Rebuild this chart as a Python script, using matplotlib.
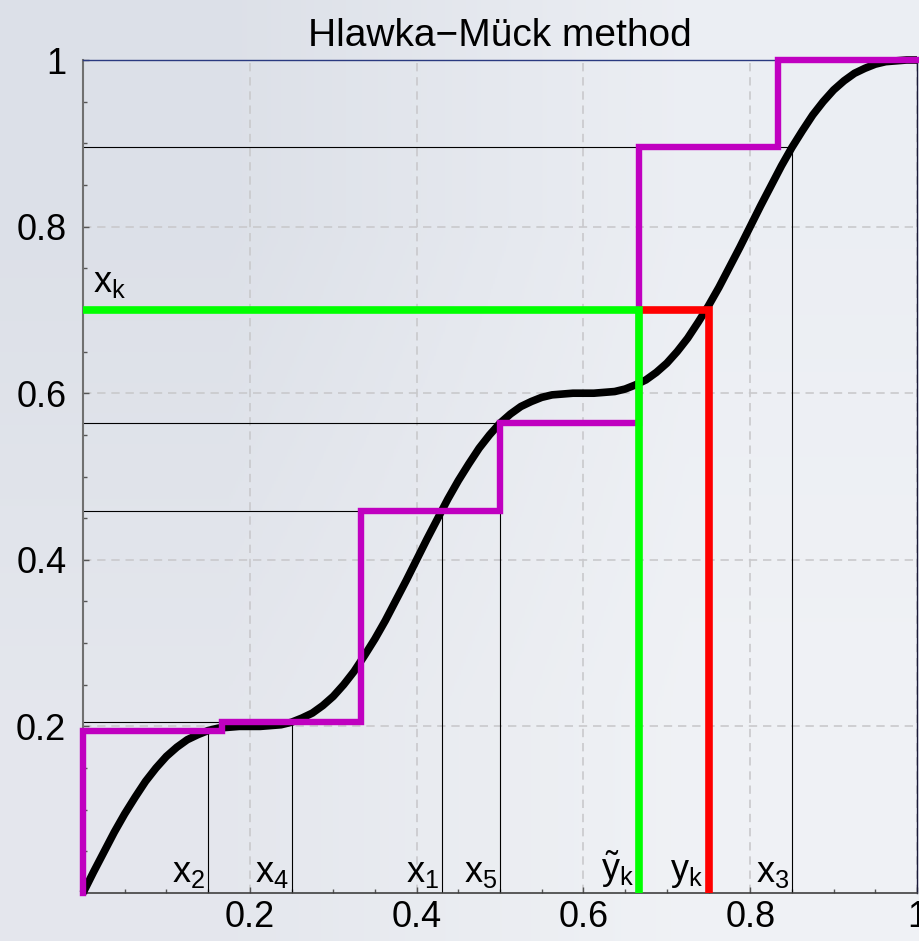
import numpy as np
import matplotlib
matplotlib.use("Agg")
import matplotlib.pyplot as plt
from matplotlib.ticker import MultipleLocator, FixedLocator, FixedFormatter

plt.rcParams['font.family'] = ['Liberation Sans', 'DejaVu Sans']
plt.rcParams['mathtext.fontset'] = 'custom'
plt.rcParams['mathtext.rm'] = 'Liberation Sans'
plt.rcParams['mathtext.it'] = 'Liberation Sans'
plt.rcParams['mathtext.bf'] = 'Liberation Sans:bold'

# ---- data ----
# black curve F(x)
curve_x = [0.0, 0.0125, 0.025, 0.0375, 0.05, 0.0625, 0.075, 0.0875, 0.1, 0.1125,
           0.125, 0.1375, 0.15, 0.1625, 0.175, 0.1875, 0.2, 0.2125, 0.225, 0.2375,
           0.25, 0.2625, 0.275, 0.2875, 0.3, 0.3125, 0.325, 0.3375, 0.35, 0.3625,
           0.375, 0.3875, 0.4, 0.4125, 0.425, 0.4375, 0.45, 0.4625, 0.475, 0.4875,
           0.5, 0.5125, 0.525, 0.5375, 0.55, 0.5625, 0.575, 0.5875, 0.6, 0.6125,
           0.625, 0.6375, 0.65, 0.6625, 0.675, 0.6875, 0.7, 0.7125, 0.725, 0.7375,
           0.75, 0.7625, 0.775, 0.7875, 0.8, 0.8125, 0.825, 0.8375, 0.85, 0.8625,
           0.875, 0.8875, 0.9, 0.9125, 0.925, 0.9375, 0.95, 0.9625, 0.975, 0.9875,
           1.0]
curve_y = [0.0, 0.025, 0.049, 0.073, 0.095, 0.115, 0.134, 0.150, 0.164, 0.175,
           0.184, 0.190, 0.195, 0.198, 0.199, 0.200, 0.200, 0.200, 0.201, 0.202,
           0.205, 0.210, 0.216, 0.225, 0.236, 0.250, 0.266, 0.285, 0.305, 0.327,
           0.351, 0.375, 0.400, 0.425, 0.449, 0.473, 0.495, 0.515, 0.534, 0.550,
           0.564, 0.575, 0.584, 0.590, 0.595, 0.598, 0.599, 0.600, 0.600, 0.600,
           0.601, 0.602, 0.605, 0.610, 0.616, 0.625, 0.636, 0.650, 0.666, 0.685,
           0.705, 0.727, 0.751, 0.775, 0.800, 0.825, 0.849, 0.873, 0.895, 0.915,
           0.934, 0.950, 0.964, 0.975, 0.984, 0.990, 0.995, 0.998, 0.999, 1.000,
           1.000]

# sample points x1..x5 and their F values
sample_names = ['x$_1$', 'x$_2$', 'x$_3$', 'x$_4$', 'x$_5$']
sample_x = [0.43, 0.15, 0.85, 0.25, 0.50]
sample_F = [0.459, 0.195, 0.895, 0.205, 0.564]

# magenta step function: jumps at j/6
step_x = [0, 1/6, 2/6, 3/6, 4/6, 5/6, 1.0]
step_levels = sorted(sample_F) + [1.0, 1.0]

# the x_k -> y~_k / y_k construction
xk = 0.70
yk_tilde = 4/6
yk = 0.75

tick_vals = [0.2, 0.4, 0.6, 0.8, 1.0]
tick_labels = ['0.2', '0.4', '0.6', '0.8', '1']

# ---- figure ----
fig = plt.figure(figsize=(9.19, 9.41), dpi=100)

# light blue-grey background
bg = fig.add_axes([0, 0, 1, 1], zorder=-10)
bg_cols = np.array([[[0.865, 0.88, 0.91], [0.925, 0.935, 0.955]],
                    [[0.895, 0.905, 0.93], [0.94, 0.948, 0.962]]])
bg.imshow(bg_cols, extent=[0, 1, 0, 1], aspect='auto', interpolation='bilinear')
bg.axis('off')

ax = fig.add_axes([83/919, 48/941, 834/919, 833/941])
ax.patch.set_alpha(0)
ax.set_xlim(0, 1)
ax.set_ylim(0, 1)

ax.grid(True, color='#c9c9cc', linestyle=(0, (5, 3.5)), linewidth=1.2)
ax.xaxis.set_major_locator(FixedLocator(tick_vals))
ax.yaxis.set_major_locator(FixedLocator(tick_vals))
ax.xaxis.set_major_formatter(FixedFormatter(tick_labels))
ax.yaxis.set_major_formatter(FixedFormatter(tick_labels))
ax.xaxis.set_minor_locator(MultipleLocator(0.05))
ax.yaxis.set_minor_locator(MultipleLocator(0.05))
ax.tick_params(which='both', direction='in', color='#555555', width=1)
ax.tick_params(which='major', length=4, labelsize=26)
ax.tick_params(which='minor', length=3)
ax.tick_params(axis='x', pad=5)
ax.tick_params(axis='y', pad=12)

ax.spines['left'].set_color('#707070')
ax.spines['left'].set_linewidth(1.5)
ax.spines['bottom'].set_color('#404040')
ax.spines['bottom'].set_linewidth(1.2)
ax.spines['top'].set_color('#2a3a80')
ax.spines['top'].set_linewidth(1)
ax.spines['right'].set_color('#1a1a3a')
ax.spines['right'].set_linewidth(1)

# thin construction lines
ax.vlines(sample_x, 0, sample_F, color='black', linewidth=0.8, zorder=2)
ax.hlines(sample_F, 0, sample_x, color='black', linewidth=0.8, zorder=2)

# curve
ax.plot(curve_x, curve_y, color='black', linewidth=5.5, zorder=3,
        solid_capstyle='butt', solid_joinstyle='round', clip_on=False)

# magenta step function
mx = [0.0] + step_x
my = [0.0] + step_levels
ax.plot(mx, my, drawstyle='steps-post', color='#c000c0', linewidth=4.6,
        solid_joinstyle='miter', zorder=4, clip_on=False)

# red and green paths
ax.plot([yk_tilde, yk, yk], [xk, xk, 0], color='#ff0000', linewidth=5.5,
        solid_joinstyle='miter', solid_capstyle='butt', zorder=5)
ax.plot([0, yk_tilde, yk_tilde], [xk, xk, 0], color='#00ff00', linewidth=5.5,
        solid_joinstyle='miter', solid_capstyle='butt', zorder=6)

# labels
lab_fs = 26
for name, sx in zip(sample_names, sample_x):
    ax.text(sx - 0.003, 0.004, name, ha='right', va='bottom', fontsize=lab_fs, zorder=7)
ax.text(yk_tilde - 0.006, 0.004, r'$\tilde{y}_k$', ha='right', va='bottom',
        fontsize=lab_fs, zorder=7)
ax.text(yk - 0.006, 0.004, 'y$_k$', ha='right', va='bottom', fontsize=lab_fs, zorder=7)
ax.text(0.012, xk + 0.012, 'x$_k$', ha='left', va='bottom', fontsize=lab_fs, zorder=7)

ax.set_title('Hlawka\u2212Mück method', fontsize=28, pad=10)

fig.savefig('out.png', dpi=100)
